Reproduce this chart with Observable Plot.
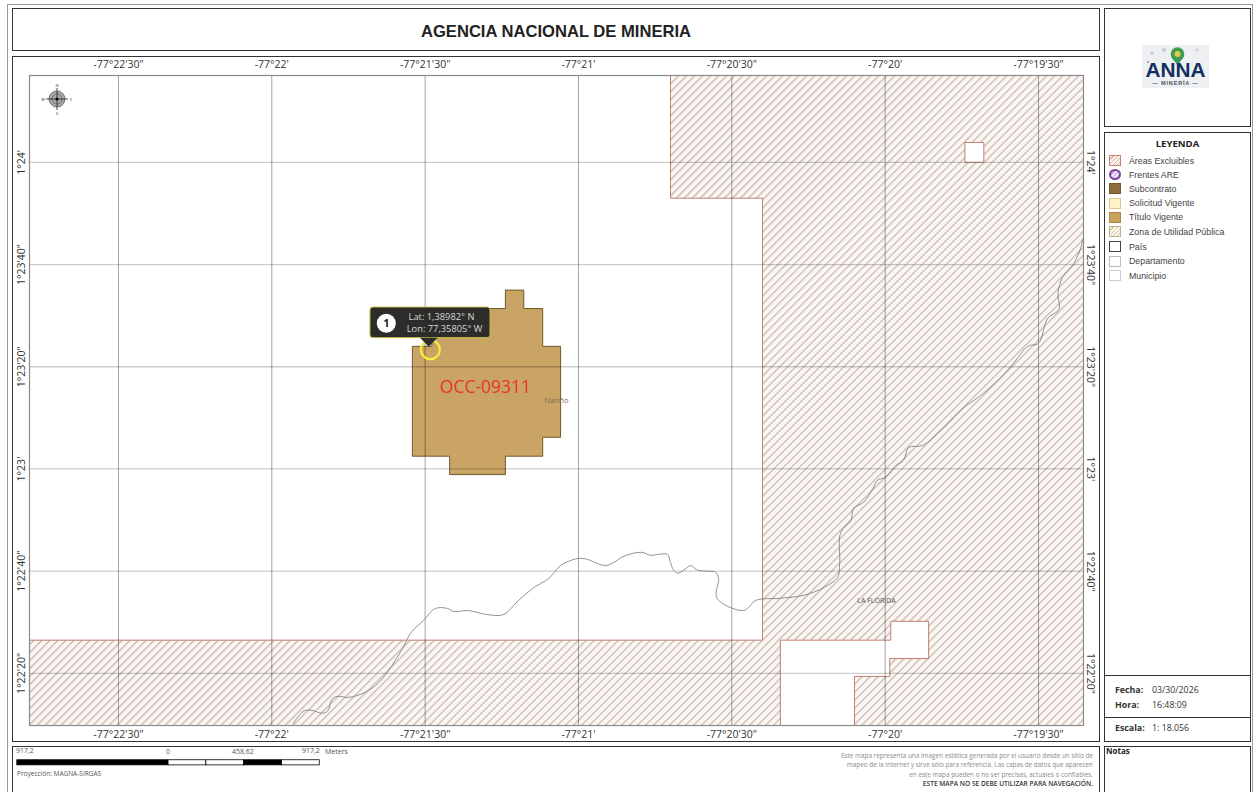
<!DOCTYPE html>
<html lang="es">
<head>
<meta charset="utf-8">
<script src="https://cdn.jsdelivr.net/npm/d3@7"></script>
<script src="https://cdn.jsdelivr.net/npm/@observablehq/plot@0.6"></script>
<style>
html,body{margin:0;padding:0;background:#fff;width:1256px;height:792px;overflow:hidden}
#page{position:relative;width:1256px;height:792px;overflow:hidden;font-family:"Open Sans",sans-serif;color:#333}
.box{position:absolute;box-sizing:border-box;border:1.5px solid #333;background:#fff}
.t{position:absolute;white-space:nowrap;line-height:1}
#map{position:absolute;left:0;top:0}
#map svg{background:transparent;display:block}
.lg{font-family:"Liberation Sans",Arial,sans-serif;font-size:8.8px;color:#444;left:1129px}
.sw{position:absolute;left:1109px;width:12px;height:11px;box-sizing:border-box}
.foot{font-size:6.4px;color:#8a8a8a;right:163px}
.scale{font-size:7px;color:#555}
</style>
</head>
<body>
<div id="page">
  <div class="box" style="left:7px;top:4px;width:1246px;height:800px;border-color:#999"></div>
  <div class="box" style="left:12px;top:8px;width:1088px;height:43px"></div>
  <div class="box" style="left:12px;top:56px;width:1088px;height:686px"></div>
  <div class="box" style="left:12px;top:746px;width:1088px;height:60px"></div>
  <div class="box" style="left:1104px;top:8px;width:147px;height:119px"></div>
  <div class="box" style="left:1104px;top:132px;width:147px;height:544px"></div>
  <div class="box" style="left:1104px;top:675px;width:147px;height:43px"></div>
  <div class="box" style="left:1104px;top:717px;width:147px;height:25px"></div>
  <div class="box" style="left:1104px;top:746px;width:147px;height:60px"></div>
  <div id="map"></div>

  <div class="t" style="left:12px;width:1088px;top:22px;text-align:center;font:bold 16.6px 'Liberation Sans',Arial,sans-serif;color:#222">AGENCIA NACIONAL DE MINERIA</div>

  <svg style="position:absolute;left:1142px;top:45px" width="67" height="43" viewBox="0 0 67 43">
    <rect width="67" height="43" fill="#eef0f3"/>
    <circle cx="10" cy="8" r="1.5" fill="#b9c0cb"/><circle cx="22" cy="5" r="2" fill="#c7ccd5"/><circle cx="6" cy="17" r="1.2" fill="#aab2bf"/><circle cx="55" cy="5" r="1.8" fill="#d0d4da"/>
    <circle cx="35.5" cy="9" r="6.8" fill="#3f9a52"/>
    <path d="M30 13 L35.5 20 L41 13 Z" fill="#3f9a52"/>
    <circle cx="35.5" cy="9" r="3" fill="#e3c94e"/>
    <text x="33.5" y="32" text-anchor="middle" font-family="Liberation Sans,Arial,sans-serif" font-weight="bold" font-size="21" fill="#12305e" textLength="60" lengthAdjust="spacingAndGlyphs">ANNA</text>
    <text x="33.5" y="40" text-anchor="middle" font-family="Liberation Sans,Arial,sans-serif" font-weight="bold" font-size="5.6" letter-spacing="0.8" fill="#4a5668">— MINERÍA —</text>
  </svg>

  <div class="t" style="left:1104px;width:147px;text-align:center;top:137px;font:bold 9.6px 'Open Sans',sans-serif;color:#222">LEYENDA</div>
  <div class="sw" style="top:155px;border:1px solid #c4816f;background:repeating-linear-gradient(135deg,#fbf1ee 0 2px,#dcb5ab 2px 3px)"></div>
  <div class="sw" style="top:169px;border:2px solid #7a3ea0;border-radius:50%;background:repeating-linear-gradient(135deg,#efe6f6 0 2px,#b9a0d0 2px 3px)"></div>
  <div class="sw" style="top:183px;background:#8b6d3f;border:1px solid #75592f"></div>
  <div class="sw" style="top:198px;background:#fdf3c4;border:1px solid #d8c98a"></div>
  <div class="sw" style="top:212px;background:#c8a35f;border:1px solid #a88844"></div>
  <div class="sw" style="top:226px;border:1px solid #bdb08c;background:repeating-linear-gradient(135deg,#fbf6e8 0 2px,#d2c7a6 2px 3px)"></div>
  <div class="sw" style="top:241px;border:1px solid #444;background:#fff"></div>
  <div class="sw" style="top:256px;border:1px solid #bbb;background:#fff"></div>
  <div class="sw" style="top:270px;border:1px solid #ccc;background:#fff"></div>
  <div class="t lg" style="top:156.5px">Áreas Excluibles</div>
  <div class="t lg" style="top:170.5px">Frentes ARE</div>
  <div class="t lg" style="top:184.5px">Subcontrato</div>
  <div class="t lg" style="top:199px">Solicitud Vigente</div>
  <div class="t lg" style="top:213px">Título Vigente</div>
  <div class="t lg" style="top:227.5px">Zona de Utilidad Pública</div>
  <div class="t lg" style="top:242.5px">País</div>
  <div class="t lg" style="top:257px">Departamento</div>
  <div class="t lg" style="top:271.5px">Municipio</div>

  <div class="t" style="left:1115px;top:686px;font-size:8.8px;font-weight:bold">Fecha:</div>
  <div class="t" style="left:1152px;top:686px;font-size:8.8px">03/30/2026</div>
  <div class="t" style="left:1115px;top:701px;font-size:8.8px;font-weight:bold">Hora:</div>
  <div class="t" style="left:1152px;top:701px;font-size:8.8px">16:48:09</div>
  <div class="t" style="left:1115px;top:724px;font-size:8.8px;font-weight:bold">Escala:</div>
  <div class="t" style="left:1152px;top:724px;font-size:8.8px">1: 18.056</div>
  <div class="t" style="left:1106px;top:747px;font-size:8px;font-weight:bold;color:#222">Notas</div>

  <div class="t scale" style="left:16px;top:747px">917,2</div>
  <div class="t scale" style="left:166px;top:748px">0</div>
  <div class="t scale" style="left:232px;top:748px">458,62</div>
  <div class="t scale" style="left:302px;top:747px">917,2</div>
  <div class="t scale" style="left:325px;top:748px">Meters</div>
  <div class="t" style="left:17px;top:771px;font-size:6.5px;color:#555">Proyección: MAGNA-SIRGAS</div>

  <div class="t foot" style="top:752.5px">Este mapa representa una imagen estática generada por el usuario desde un sitio de</div>
  <div class="t foot" style="top:762px">mapeo de la Internet y  sirve sólo para referencia. Las capas de datos que aparecen</div>
  <div class="t foot" style="top:772px">en este mapa pueden o no ser precisas, actuales o confiables.</div>
  <div class="t foot" style="top:781px;color:#333;font-size:6.6px;font-weight:600">ESTE MAPA NO SE DEBE UTILIZAR PARA NAVEGACIÓN.</div>
</div>

<script>
// All map coordinates are arc-seconds: east of 77°23' W and north of 1°22' N.
const lonDomain = [12.6, 218.8];
const latDomain = [9.8, 137.0];
const lonTicks = [30, 60, 90, 120, 150, 180, 210];
const lonLabels = ["-77°22'30\"", "-77°22'", "-77°21'30\"", "-77°21'", "-77°20'30\"", "-77°20'", "-77°19'30\""];
const latTicks = [120, 100, 80, 60, 40, 20];
const latLabels = ["1°24'", "1°23'40\"", "1°23'20\"", "1°23'", "1°22'40\"", "1°22'20\""];

const zoneLon = [138.0, 218.8, 218.8, 174.0, 174.0, 180.9, 180.9, 188.5, 188.5, 181.1, 181.1, 159.5, 159.5, 12.6, 12.6, 156.0, 156.0, 138.0, 138.0];
const zoneLat = [137.0, 137.0, 9.8, 9.8, 19.4, 19.4, 22.9, 22.9, 30.2, 30.2, 26.5, 26.5, 9.8, 9.8, 26.5, 26.5, 113.0, 113.0, 137.0];
const holeLon = [195.6, 199.3, 199.3, 195.6, 195.6];
const holeLat = [123.9, 123.9, 120.0, 120.0, 123.9];

const titleLon = [105.7, 109.3, 109.3, 113.0, 113.0, 116.5, 116.5, 113.0, 113.0, 105.7, 105.7, 94.8, 94.8, 87.5, 87.5, 91.3, 91.3, 102.0, 102.0, 105.7, 105.7];
const titleLat = [95.0, 95.0, 91.4, 91.4, 84.0, 84.0, 66.2, 66.2, 62.5, 62.5, 58.9, 58.9, 62.5, 62.5, 84.0, 84.0, 87.9, 87.9, 91.4, 91.4, 95.0];

const riverLon = [64.2, 66.2, 67.6, 69.9, 70.9, 71.9, 73.1, 75.0, 78.3, 80.7, 82.6, 85.6, 87.1, 89.7, 92.0, 94.4, 95.6, 98.3, 102.2, 105.3, 108.3, 111.0, 114.2, 116.5, 118.5, 120.0, 121.8, 123.7, 125.3, 126.9, 128.8, 132.3, 134.1, 135.7, 137.4, 138.0, 138.6, 139.4, 141.0, 141.9, 143.3, 145.3, 146.8, 147.4, 147.0, 149.2, 152.3, 153.3, 154.7, 159.5, 164.1, 168.0, 170.7, 171.1, 171.3, 173.3, 173.8, 175.8, 177.6, 178.5, 180.1, 182.1, 183.6, 184.6, 187.3, 191.5, 195.4, 198.7, 202.6, 205.1, 207.9, 210.0, 211.8, 214.0, 213.8, 214.7, 216.9, 218.3, 218.7];
const riverLat = [10.2, 12.6, 12.8, 12.2, 12.6, 15.1, 15.5, 15.3, 16.3, 18.0, 20.2, 24.9, 27.8, 30.4, 32.7, 32.7, 32.1, 32.3, 31.5, 31.5, 34.3, 36.6, 38.6, 41.1, 42.1, 42.5, 42.3, 41.5, 41.1, 41.7, 42.9, 43.7, 43.1, 43.3, 43.3, 41.7, 40.2, 39.6, 40.5, 41.1, 40.2, 40.0, 39.8, 38.6, 34.9, 33.1, 32.3, 32.9, 34.3, 34.7, 35.3, 36.8, 38.8, 41.5, 47.6, 49.9, 52.3, 53.5, 56.2, 57.8, 58.4, 60.7, 61.7, 64.2, 64.6, 68.1, 72.0, 74.4, 77.9, 80.7, 84.0, 84.6, 89.5, 91.2, 94.4, 97.5, 100.2, 103.4, 105.1];

const pointLatDeg = 1.38982;
const pointLonDeg = -77.35805;
const pointLon = (pointLonDeg + 77 + 23 / 60) * 3600;
const pointLat = (pointLatDeg - 1 - 22 / 60) * 3600;

const mapLabels = ["OCC-09311", "Nariño", "LA FLORIDA"];
const mapLabelLon = [101.8, 115.7, 178.3];
const mapLabelLat = [76.0, 73.4, 34.3];

const tipBoxLon = [79.3, 102.8], tipBoxLat = [85.6, 91.6];
const tipArrowLon = [89.0, 92.4, 90.7], tipArrowLat = [85.7, 85.7, 83.9];
const tipBadgeLon = 82.4, tipBadgeLat = 88.5;
const tipLines = ["Lat: 1,38982° N", "Lon: 77,35805° W"];
const tipLineLon = [93.2, 93.8], tipLineLat = [89.7, 87.4];

const scaleMeters = [-917.2, 0, 229.3, 458.62, 687.9, 917.2];
const scaleFills = ["#000", "#fff", "#fff", "#000", "#fff"];
const scaleOriginLon = 39.8, secondsToMeters = 31.0;
const scaleLat = [2.0, 3.0];

const pts = (xs, ys) => xs.map((x, i) => ({x, y: ys[i]}));
const scaleSegs = scaleFills.map((fill, i) => ({
  x1: scaleOriginLon + scaleMeters[i] / secondsToMeters,
  x2: scaleOriginLon + scaleMeters[i + 1] / secondsToMeters,
  fill
}));
const labelRows = mapLabels.map((t, i) => ({t, x: mapLabelLon[i], y: mapLabelLat[i]}));
const tipRows = tipLines.map((t, i) => ({t, x: tipLineLon[i], y: tipLineLat[i]}));
const fontFam = "Open Sans, sans-serif";

const plot = Plot.plot({
  width: 1256, height: 792,
  marginLeft: 29, marginRight: 173, marginTop: 75, marginBottom: 67,
  style: {fontFamily: fontFam, background: "transparent"},
  x: {domain: lonDomain},
  y: {domain: latDomain},
  marks: [
    Plot.rect([0], {x1: lonDomain[0], x2: lonDomain[1], y1: latDomain[0], y2: latDomain[1], fill: "#fff"}),
    Plot.line(pts(zoneLon, zoneLat), {x: "x", y: "y", fill: "url(#hatchZone)", stroke: "#c27f70", strokeWidth: 1}),
    Plot.line(pts(holeLon, holeLat), {x: "x", y: "y", fill: "#fff", stroke: "#c27f70", strokeWidth: 1}),
    Plot.line(pts(titleLon, titleLat), {x: "x", y: "y", fill: "#c9a464", stroke: "#6f5a2c", strokeWidth: 1}),
    Plot.ruleY(latTicks, {stroke: "#000", strokeOpacity: 0.2, strokeWidth: 1.3}),
    Plot.ruleX(lonTicks, {stroke: "#000", strokeOpacity: 0.36, strokeWidth: 1}),
    Plot.line(pts(riverLon, riverLat), {x: "x", y: "y", stroke: "#777", strokeWidth: 0.8, curve: "catmull-rom"}),
    Plot.frame({stroke: "#8a8a8a", strokeWidth: 1.2}),
    Plot.axisX({anchor: "top", ticks: lonTicks, tickSize: 0, tickPadding: 8, fontSize: 10.5, fill: "#333", label: null,
      tickFormat: d => lonLabels[lonTicks.indexOf(d)]}),
    Plot.axisX({anchor: "bottom", ticks: lonTicks, tickSize: 0, tickPadding: 5, fontSize: 10.5, fill: "#333", label: null,
      tickFormat: d => lonLabels[lonTicks.indexOf(d)]}),
    Plot.axisY({anchor: "left", ticks: latTicks, tickSize: 0, tickPadding: 5, tickRotate: -90, fontSize: 10.5, fill: "#333", label: null,
      tickFormat: d => latLabels[latTicks.indexOf(d)]}),
    Plot.axisY({anchor: "right", ticks: latTicks, tickSize: 0, tickPadding: 11, tickRotate: 90, fontSize: 10.5, fill: "#333", label: null,
      tickFormat: d => latLabels[latTicks.indexOf(d)]}),
    Plot.text(labelRows.slice(0, 1), {x: "x", y: "y", text: "t", fill: "#e8352a", fontSize: 17.5, letterSpacing: 0.4}),
    Plot.text(labelRows.slice(1, 2), {x: "x", y: "y", text: "t", fill: "#7b6b4c", fontSize: 7.5}),
    Plot.text(labelRows.slice(2), {x: "x", y: "y", text: "t", fill: "#555", fontSize: 7}),
    Plot.dot([0], {x: () => pointLon, y: () => pointLat, r: 9.5, stroke: "#f2ee3e", strokeWidth: 2.2, fill: "none"}),
    Plot.rect([0], {x1: tipBoxLon[0], x2: tipBoxLon[1], y1: tipBoxLat[0], y2: tipBoxLat[1], fill: "#2c2c2a", stroke: "#c9c84a", strokeWidth: 1, rx: 3}),
    Plot.line(pts(tipArrowLon, tipArrowLat), {x: "x", y: "y", fill: "#2c2c2a"}),
    Plot.dot([0], {x: () => tipBadgeLon, y: () => tipBadgeLat, r: 9.5, fill: "#fff"}),
    Plot.text(["1"], {x: () => tipBadgeLon, y: () => tipBadgeLat, text: d => d, fill: "#222", fontSize: 11, fontWeight: "bold"}),
    Plot.text(tipRows, {x: "x", y: "y", text: "t", fill: "#d8d8d8", fontSize: 9.3}),
    Plot.rect(scaleSegs, {x1: "x1", x2: "x2", y1: scaleLat[0], y2: scaleLat[1], fill: "fill", stroke: "#000", strokeWidth: 0.8})
  ]
});

const ns = "http://www.w3.org/2000/svg";
const defs = document.createElementNS(ns, "defs");
defs.innerHTML = `<pattern id="hatchZone" patternUnits="userSpaceOnUse" width="5.66" height="5.66" patternTransform="rotate(45)">
  <rect width="5.66" height="5.66" fill="#fcf6f3"/><rect width="1.2" height="5.66" fill="#bfb3ad"/></pattern>`;
plot.insertBefore(defs, plot.firstChild);
document.getElementById("map").appendChild(plot);

// Compass rose, top-left of the map frame
const cx = 57, cy = 99;
const rose = document.createElementNS(ns, "g");
rose.innerHTML = `<circle cx="${cx}" cy="${cy}" r="8" fill="#a8a8a8" stroke="#555" stroke-width=".7"/>
<circle cx="${cx}" cy="${cy}" r="5" fill="none" stroke="#444" stroke-width=".5"/>
<path d="M${cx-11} ${cy}H${cx+11}M${cx} ${cy-11}V${cy+11}" stroke="#222" stroke-width=".8"/>
<circle cx="${cx}" cy="${cy}" r="1.5" fill="#000"/>
<text x="${cx}" y="${cy-12.5}" font-size="4" text-anchor="middle" fill="#333">N</text>
<text x="${cx}" y="${cy+15.5}" font-size="4" text-anchor="middle" fill="#333">S</text>
<text x="${cx-14}" y="${cy+1.5}" font-size="4" text-anchor="middle" fill="#333">W</text>
<text x="${cx+14}" y="${cy+1.5}" font-size="4" text-anchor="middle" fill="#333">E</text>`;
plot.appendChild(rose);
</script>
</body>
</html>
